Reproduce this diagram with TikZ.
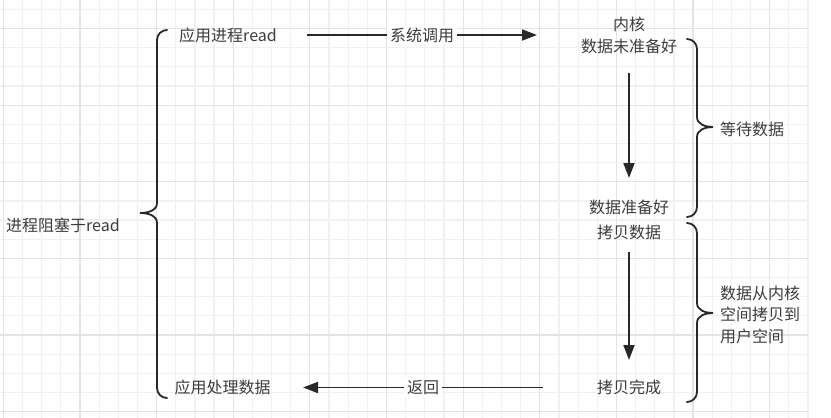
\documentclass[tikz,border=0pt]{standalone}
\usepackage{fontspec}
\setmainfont{Noto Sans CJK SC}
\usepackage{tikz}
\usetikzlibrary{arrows.meta, calc}
\definecolor{gridminor}{RGB}{241,241,241}
\definecolor{gridmajor}{RGB}{228,228,228}
\definecolor{inkgray}{RGB}{40,40,40}
\definecolor{textgray}{RGB}{60,60,60}

\begin{document}
\begin{tikzpicture}[
    x=1pt, y=-1pt,
    >={Triangle[length=15pt, width=11pt]},
    every node/.style={font=\fontsize{16}{21.5}\selectfont, text=textgray, inner sep=0pt},
    flow/.style={->, line width=1.8pt, draw=inkgray},
    bracket/.style={line width=1.8pt, draw=inkgray, line cap=round},
    tag/.style={fill=white, inner xsep=3pt, inner ysep=2pt},
]
    \useasboundingbox (0,0) rectangle (831,418);

    % Grid paper
    \foreach \i in {0,...,42}
        \draw[gridminor, line width=1.2pt] ({3.3+19.16*\i},0) -- ({3.3+19.16*\i},418);
    \foreach \j in {0,...,21}
        \draw[gridminor, line width=1.2pt] (0,{9.3+19.16*\j}) -- (808,{9.3+19.16*\j});
    \foreach \i in {0,4,...,40}
        \draw[gridmajor, line width=1.2pt] ({3.3+19.16*\i},0) -- ({3.3+19.16*\i},418);
    \foreach \j in {1,5,...,21}
        \draw[gridmajor, line width=1.2pt] (0,{9.3+19.16*\j}) -- (808,{9.3+19.16*\j});

    % Process side
    \node[anchor=west] (block) at (6,225) {进程阻塞于read};
    \node (app) at (228,35) {应用进程read};
    \node (handle) at (222.5,387.5) {应用处理数据};

    % Kernel side
    \node[align=center] (kernel) at (629,35.5) {内核\\数据未准备好};
    \node (ready) at (629,207.5) {数据准备好};
    \node (copy) at (629,232.5) {拷贝数据};
    \node (done) at (629,387.5) {拷贝完成};

    % Stage labels
    \node[anchor=west] (wait) at (720,129.5) {等待数据};
    \node[anchor=west, align=left] (copydesc) at (720,314.5) {数据从内核\\空间拷贝到\\用户空间};

    % Calls and returns
    \draw[flow] ($(app.center)+(79,0)$) -- ($(kernel.center |- app.center)+(-92,0)$)
        node[midway, tag] {系统调用};
    \draw[flow] ($(kernel.center)+(0,37.5)$) -- ($(ready.center)+(0,-29.5)$);
    \draw[flow] ($(copy.center)+(0,19.5)$) -- ($(done.center)+(0,-27.5)$);
    \draw[flow] ($(done.center)+(-86,0)$) -- ($(handle.center)+(80.5,0)$)
        node[midway, tag] {返回};

    % Left bracket
    \draw[bracket] (167,30) to[out=180,in=90] (157,40) -- (157,203)
        to[out=-90,in=0] (140,213) to[out=0,in=90] (157,223) -- (157,388)
        to[out=-90,in=180] (167,398);

    % Right brackets
    \draw[bracket] (687,39) to[out=0,in=90] (697,49) -- (697,117)
        to[out=-90,in=180] (713,127) to[out=180,in=90] (697,137) -- (697,207)
        to[out=-90,in=0] (687,217);
    \draw[bracket] (687,223) to[out=0,in=90] (697,233) -- (697,303)
        to[out=-90,in=180] (713,313) to[out=180,in=90] (697,323) -- (697,392)
        to[out=-90,in=0] (687,402);
\end{tikzpicture}
\end{document}
